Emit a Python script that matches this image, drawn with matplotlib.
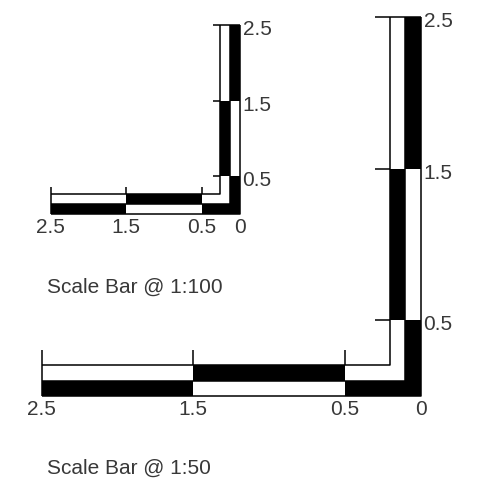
import matplotlib.pyplot as plt
from matplotlib.patches import Rectangle

plt.rcParams['font.family'] = ['Liberation Sans', 'DejaVu Sans']

# valeurs des barres d'echelle
scale_names = ["Scale Bar @ 1:100", "Scale Bar @ 1:50"]
tick_values = [2.5, 1.5, 0.5, 0]
tick_labels = ["2.5", "1.5", "0.5", "0"]
segment_starts = [2.5, 1.5, 0.5]
segment_ends = [1.5, 0.5, 0]
outer_colors = ["black", "white", "black"]
inner_colors = ["white", "black", "white"]

# mise en page (pixels) : coin, pixels par unite, epaisseur de bande, tick, titre
W, H = 498, 486
layouts = [
    dict(cx=239.5, cy=214, unit=75.5, band=10, tick=7, title_x=47, title_y=293),
    dict(cx=420.5, cy=396, unit=151.5, band=15.5, tick=15, title_x=47, title_y=474),
]
TXT = "#383838"
FS = 15
LW = 1.1

fig = plt.figure(figsize=(W / 100, H / 100), dpi=100)
fig.patch.set_facecolor("white")


def scale_bar(fig, name, cx, cy, unit, band, tick, title_x, title_y):
    lo, hi = -0.45, 2.6
    left = cx - hi * unit
    bottom = (H - cy) + lo * unit
    ax = fig.add_axes([left / W, bottom / H, (hi - lo) * unit / W, (hi - lo) * unit / H])
    ax.set_xlim(hi, lo)
    ax.set_ylim(lo, hi)
    ax.axis("off")
    ax.patch.set_alpha(0)
    w = band / unit
    t = tick / unit
    top = max(tick_values)

    for a, b, oc, ic in zip(segment_starts, segment_ends, outer_colors, inner_colors):
        # L exterieur : ligne du bas + colonne de droite
        ax.add_patch(Rectangle((b, 0), a - b, w, fc=oc, ec="none"))
        ax.add_patch(Rectangle((0, b), w, a - b, fc=oc, ec="none"))
        # L interieur
        bi = max(b, w)
        ax.add_patch(Rectangle((bi, w), a - bi, w, fc=ic, ec="none"))
        ax.add_patch(Rectangle((w, bi), w, a - bi, fc=ic, ec="none"))

    k = dict(color="black", lw=LW, solid_capstyle="butt")
    ax.plot([top, 0, 0], [0, 0, top], **k)
    ax.plot([top, w, w], [w, w, top], **k)
    ax.plot([top, 2 * w, 2 * w], [2 * w, 2 * w, top], **k)
    ax.plot([top, top], [0, 2 * w + t], **k)
    ax.plot([0, 2 * w + t], [top, top], **k)
    for v in tick_values[1:-1]:
        ax.plot([v, v], [2 * w, 2 * w + t], **k)
        ax.plot([2 * w, 2 * w + t], [v, v], **k)

    for v, lab in zip(tick_values, tick_labels):
        ax.annotate(lab, xy=(v, 0), xytext=(0, -19), textcoords="offset pixels",
                    ha="center", va="baseline", fontsize=FS, color=TXT)
        if v > 0:
            ax.annotate(lab, xy=(0, v), xytext=(3, -10), textcoords="offset pixels",
                        ha="left", va="baseline", fontsize=FS, color=TXT)

    fig.text(title_x / W, 1 - title_y / H, name, ha="left", va="baseline",
             fontsize=FS, color=TXT)


for name, lay in zip(scale_names, layouts):
    scale_bar(fig, name, **lay)

fig.savefig("out.png", dpi=100)
